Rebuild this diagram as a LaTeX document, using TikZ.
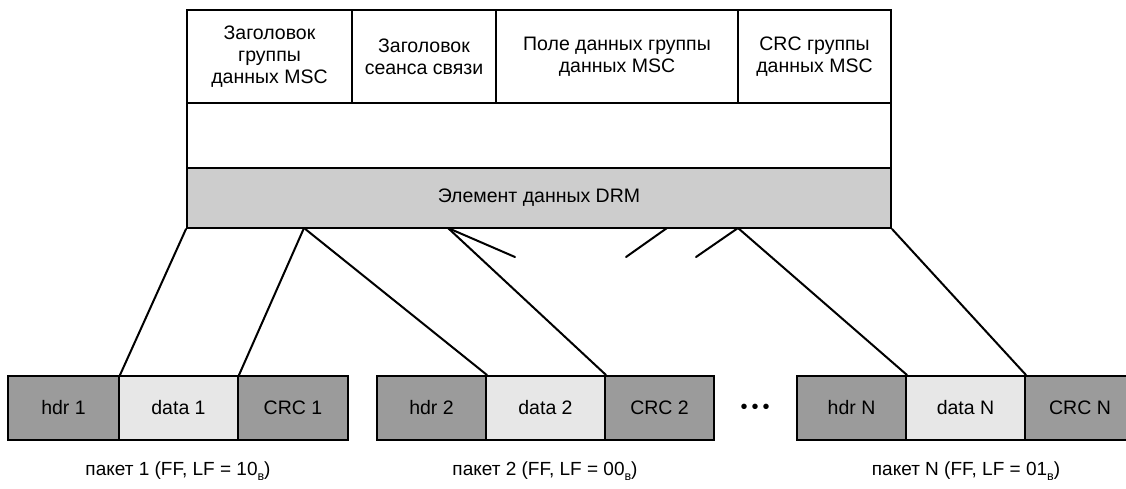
\documentclass[tikz,border=0pt]{standalone}
\usepackage{fontspec}
\setmainfont{Liberation Sans}
\definecolor{hdrgray}{RGB}{155,155,155}
\definecolor{datagray}{RGB}{231,231,231}
\definecolor{drmgray}{RGB}{205,205,205}
\newcommand\bigfont{\fontsize{19.5}{22}\selectfont}
\newcommand\lblfont{\fontsize{19}{20}\selectfont}
\newcommand\lsub[1]{\raisebox{-0.3em}{\fontsize{12.5}{12.5}\selectfont #1}}
\begin{document}
\begin{tikzpicture}[x=1pt,y=-1pt,
  box/.style={draw=black, line width=2pt, inner sep=0pt, align=center, font=\bigfont},
  cellbox/.style={box, fill=white, minimum height=93pt},
  hdrbox/.style={box, fill=hdrgray, minimum height=64pt},
  databox/.style={box, fill=datagray, minimum height=64pt},
  conn/.style={line width=2pt, line cap=round},
  lbl/.style={font=\lblfont, inner sep=0pt}]
\useasboundingbox (0,0) rectangle (1126,488);
% top structure
\node[box, fill=white, minimum width=704pt, minimum height=65pt] (wrow) at (539,135.5) {};
\node[box, fill=drmgray, minimum width=704pt, minimum height=60pt] (drm) at (539,198) {Элемент данных DRM};
\node[cellbox, minimum width=165pt] (c1) at (269.5,56.5) {Заголовок\\группы\\данных MSC};
\node[cellbox, minimum width=144pt] (c2) at (424,56.5) {Заголовок\\сеанса связи};
\node[cellbox, minimum width=242pt] (c3) at (617,56.5) {Поле данных группы\\данных MSC};
\node[cellbox, minimum width=153pt] (c4) at (814.5,56.5) {CRC группы\\данных MSC};
% packets
\node[hdrbox, minimum width=111pt] (h1) at (63.5,408) {hdr 1};
\node[databox, minimum width=119pt] (d1) at (178.5,408) {data 1};
\node[hdrbox, minimum width=110pt] (r1) at (293,408) {CRC 1};
\node[hdrbox, minimum width=109pt] (h2) at (431.5,408) {hdr 2};
\node[databox, minimum width=119pt] (d2) at (545.5,408) {data 2};
\node[hdrbox, minimum width=109pt] (r2) at (659.5,408) {CRC 2};
\node[hdrbox, minimum width=109pt] (hN) at (851.5,408) {hdr N};
\node[databox, minimum width=119pt] (dN) at (965.5,408) {data N};
\node[hdrbox, minimum width=110pt] (rN) at (1080,408) {CRC N};
\node[font=\fontsize{20}{20}\selectfont, inner sep=0pt] (dots) at (755,409) {•\hspace{4pt}•\hspace{4pt}•};
% labels
\node[lbl] (l1) at (178,471) {пакет 1 (FF, LF = 10\lsub{в})};
\node[lbl] (l2) at (545,471) {пакет 2 (FF, LF = 00\lsub{в})};
\node[lbl] (lN) at (966,471) {пакет N (FF, LF = 01\lsub{в})};
% connector anchors on DRM bottom
\coordinate (g1) at (304,228);
\coordinate (g2) at (448,228);
\coordinate (g3) at (667,228);
\coordinate (g4) at (738,228);
\coordinate (s1) at (515,257);
\coordinate (s2) at (626,257);
\coordinate (s3) at (696,257);
% connectors
\draw[conn] (drm.south west) -- (h1.north east);
\draw[conn] (g1) -- (d1.north east);
\draw[conn] (g1) -- (h2.north east);
\draw[conn] (g2) -- (d2.north east);
\draw[conn] (g2) -- (s1);
\draw[conn] (g3) -- (s2);
\draw[conn] (g4) -- (s3);
\draw[conn] (g4) -- (hN.north east);
\draw[conn] (drm.south east) -- (dN.north east);
\end{tikzpicture}
\end{document}
